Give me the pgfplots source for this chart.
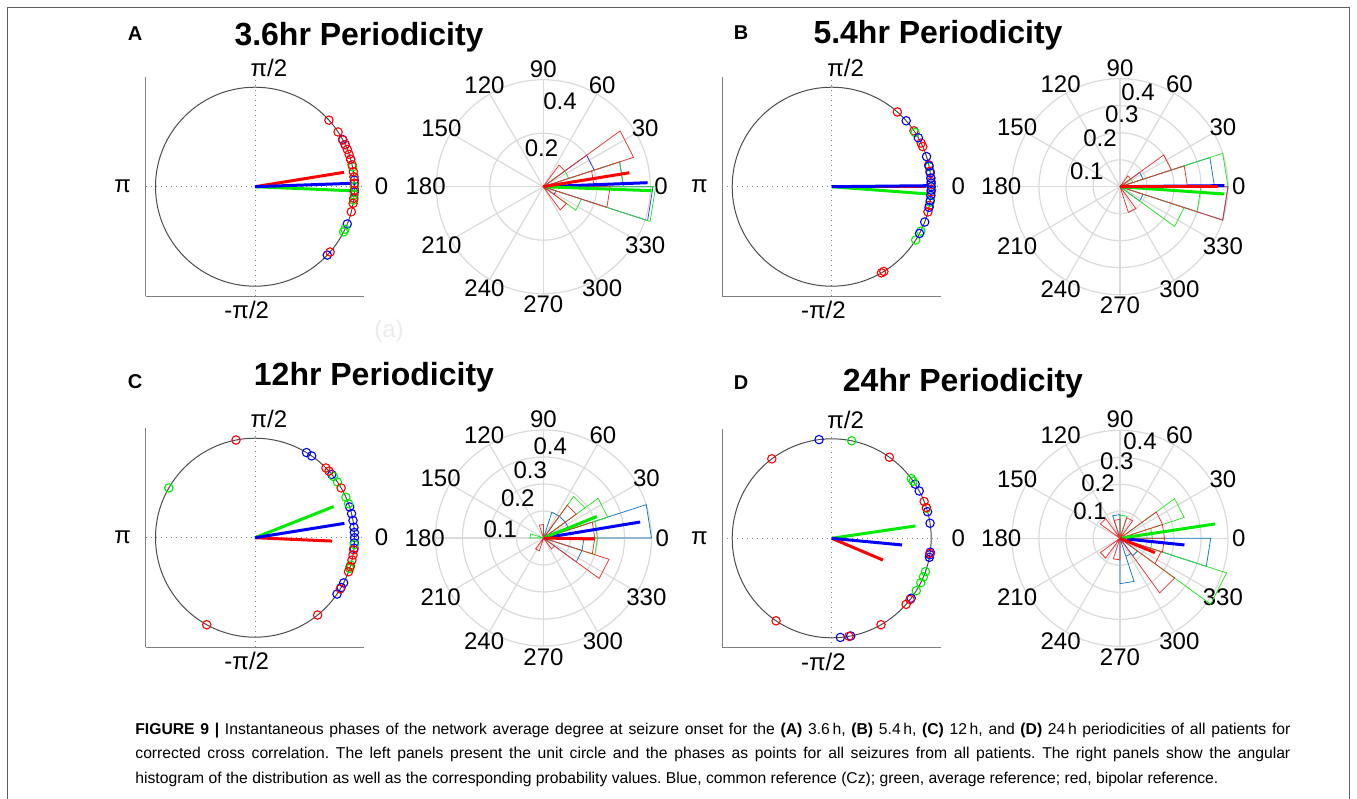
\documentclass[border=0pt]{standalone}
\usepackage{pgfplots}
\pgfplotsset{compat=1.18}
\usepackage{fontspec}
\setmainfont{Liberation Sans}

\definecolor{axgray}{RGB}{128,128,128}
\definecolor{gridgray}{RGB}{218,218,218}
\definecolor{pblue}{RGB}{0,0,255}
\definecolor{pgreen}{RGB}{0,235,0}
\definecolor{pred}{RGB}{255,0,0}
\definecolor{wblue}{RGB}{20,120,195}
\definecolor{wblueA}{RGB}{60,60,225}
\definecolor{wred}{RGB}{232,50,50}
\definecolor{wgreen}{RGB}{40,225,40}
\definecolor{framegray}{RGB}{95,95,95}

\pgfplotsset{
  unitax/.style={anchor=center, scale only axis, width=109.45pt, height=109.45pt,
    xmin=-1.1, xmax=1.1, ymin=-1.1, ymax=1.1,
    axis x line*=bottom, axis y line*=left, xtick=\empty, ytick=\empty,
    every outer x axis line/.append style={-},
    every outer y axis line/.append style={-},
    axis line style={draw=axgray, line width=0.6pt, -}, clip=false},
  polax/.style={anchor=center, scale only axis, width=#1, height=#1,
    xmin=-0.5, xmax=0.5, ymin=-0.5, ymax=0.5, hide axis, clip=false},
  phase/.style={#1, only marks, mark=o, mark size=2.1pt,
    mark options={line width=0.55pt}, data cs=polar},
  vec/.style={#1, line width=1.5pt, mark=none, data cs=polar},
  rose/.style={#1, line width=0.38pt, mark=none, data cs=polar, line join=miter},
}
\newcommand\lbl{\fontsize{12}{12}\selectfont}

% unit circle, dotted axes and phase labels of a left panel
\newcommand\unitframe{%
  \draw[axgray, dotted, line width=0.5pt] (axis cs:-1.1,0) -- (axis cs:1.1,0);
  \draw[axgray, dotted, line width=0.5pt] (axis cs:0,-1.1) -- (axis cs:0,1.1);
  \draw[black!70, line width=0.5pt] (axis cs:0,0) circle[radius=49.75pt];
  \node[font=\lbl] at (axis cs:0.14,1.19) {π/2};
  \node[font=\lbl] at (axis cs:-0.083,-1.24) {-π/2};
  \node[font=\lbl] at (axis cs:1.273,0) {0};
  \node[font=\lbl] at (axis cs:-1.33,0) {π};
}
% spokes and angle labels of a polar panel (outer radius 0.4)
\newcommand\polspokes{%
  \pgfplotsinvokeforeach{0,30,60,90,120,150}{%
    \draw[gridgray, line width=0.6pt] (axis cs:{0.4*cos(##1)},{0.4*sin(##1)}) -- (axis cs:{-0.4*cos(##1)},{-0.4*sin(##1)});}
  \pgfplotsinvokeforeach{0,30,60,90,120,150,180,210,240,270,300,330}{%
    \node[font=\lbl] at (axis cs:{0.44*cos(##1)},{0.44*sin(##1)}) {##1};}
}

\begin{document}
\begin{tikzpicture}
\path[use as bounding box] (0,0) rectangle (678.5pt,-399.5pt);
\draw[framegray, line width=0.6pt] (3.75pt,-400pt) -- (3.75pt,-3.75pt) -- (674.75pt,-3.75pt) -- (674.75pt,-400pt);

% panel letters and titles
\node[font=\bfseries\fontsize{10}{10}\selectfont] at (67.5pt,-17pt) {A};
\node[font=\bfseries\fontsize{10}{10}\selectfont] at (370.5pt,-16.5pt) {B};
\node[font=\bfseries\fontsize{10}{10}\selectfont] at (67.5pt,-191pt) {C};
\node[font=\bfseries\fontsize{10}{10}\selectfont] at (370.5pt,-191.5pt) {D};
\node[font=\bfseries\fontsize{16}{16}\selectfont] at (179.5pt,-18.5pt) {3.6hr Periodicity};
\node[font=\bfseries\fontsize{16}{16}\selectfont] at (469pt,-17.5pt) {5.4hr Periodicity};
\node[font=\bfseries\fontsize{16}{16}\selectfont] at (187pt,-188.5pt) {12hr Periodicity};
\node[font=\bfseries\fontsize{16}{16}\selectfont] at (481.5pt,-191.5pt) {24hr Periodicity};
\node[font=\lbl, text=black!8] at (194.5pt,-165.5pt) {(a)};

%% ---------------- A: 3.6 h ----------------
\begin{axis}[unitax, at={(127.5pt,-93.35pt)}]
\unitframe
\addplot[phase=pblue] coordinates {(28.3,1) (25,1) (16,1) (3.8,1) (0,1) (-3,1) (-22,1) (-43.4,1)};
\addplot[phase=pgreen] coordinates {(11.5,1) (5.7,1) (0,1) (-4.8,1) (-7.7,1) (-25.3,1) (-27,1)};
\addplot[phase=pred] coordinates {(42,1) (33.4,1) (28,1) (25,1) (22,1) (19,1) (16,1) (12.7,1) (8.7,1) (5.7,1) (2,1) (-2,1) (-6.7,1) (-9.6,1) (-14.6,1) (-41,1)};
\addplot[vec=pred] coordinates {(0,0) (9.2,0.906)};
\addplot[vec=pgreen] coordinates {(0,0) (-2.4,0.972)};
\addplot[vec=pblue] coordinates {(0,0) (2,0.962)};
\end{axis}

\begin{axis}[polax=133.75pt, at={(271.65pt,-93.35pt)}]
\pgfplotsinvokeforeach{26.75pt,53.5pt}{\draw[gridgray, line width=0.6pt] (axis cs:0,0) circle[radius=#1];}
\polspokes
\node[font=\lbl] at (axis cs:-0.0067,0.1447) {0.2};
\node[font=\lbl] at (axis cs:0.0624,0.3185) {0.4};
\addplot[rose=wblueA] coordinates {(0,0) (342,0.41) (360,0.41) (0,0) (0,0.30) (18,0.30) (0,0) (18,0.20) (36,0.20) (0,0) (324,0.05) (342,0.05) (0,0)};
\addplot[rose=wgreen] coordinates {(0,0) (342,0.42) (360,0.42) (0,0) (0,0.30) (18,0.30) (0,0) (18,0.10) (36,0.10) (0,0) (324,0.15) (342,0.15) (0,0)};
\addplot[rose=wred] coordinates {(0,0) (18,0.355) (36,0.355) (0,0) (0,0.19) (18,0.19) (0,0) (342,0.25) (360,0.25) (0,0) (36,0.10) (54,0.10) (0,0) (306,0.107) (324,0.107) (0,0)};
\addplot[vec=pblue] coordinates {(0,0) (2.2,0.39)};
\addplot[vec=pgreen] coordinates {(0,0) (-2.1,0.405)};
\addplot[vec=pred] coordinates {(0,0) (9.2,0.326)};
\end{axis}

%% ---------------- B: 5.4 h ----------------
\begin{axis}[unitax, at={(415.85pt,-93.35pt)}]
\unitframe
\addplot[phase=pred] coordinates {(48.7,1) (34.2,1) (26,1) (23.8,1) (12.7,1) (8.9,1) (3,1) (-3,1) (-10.8,1) (-14.7,1) (-58.4,1) (-60,1)};
\addplot[phase=pgreen] coordinates {(33,1) (11.6,1) (5,1) (0,1) (-5,1) (-9,1) (-26.5,1) (-32.4,1)};
\addplot[phase=pblue] coordinates {(41.5,1) (29.4,1) (17.6,1) (12,1) (8,1) (5,1) (2,1) (0,1) (-2,1) (-5,1) (-8,1) (-12,1) (-20.8,1) (-28,1)};
\addplot[vec=pred] coordinates {(0,0) (0,0.95)};
\addplot[vec=pgreen] coordinates {(0,0) (-4.3,0.975)};
\addplot[vec=pblue] coordinates {(0,0) (0.6,0.973)};
\end{axis}

\begin{axis}[polax=135pt, at={(560pt,-93.35pt)}]
\pgfplotsinvokeforeach{13.5pt,27pt,40.5pt,54pt}{\draw[gridgray, line width=0.6pt] (axis cs:0,0) circle[radius=#1];}
\polspokes
\node[font=\lbl] at (axis cs:-0.1233,0.0581) {0.1};
\node[font=\lbl] at (axis cs:-0.0741,0.1804) {0.2};
\node[font=\lbl] at (axis cs:0.0063,0.2693) {0.3};
\node[font=\lbl] at (axis cs:0.0667,0.3481) {0.4};
\addplot[rose=wblue] coordinates {(0,0) (0,0.35) (18,0.35) (0,0) (18,0.09) (36,0.09) (0,0) (324,0.09) (342,0.09) (0,0) (342,0.40) (360,0.40) (0,0)};
\addplot[rose=wgreen] coordinates {(0,0) (0,0.40) (18,0.40) (0,0) (342,0.30) (360,0.30) (0,0) (324,0.25) (342,0.25) (0,0) (18,0.05) (36,0.05) (0,0)};
\addplot[rose=wred] coordinates {(0,0) (0,0.25) (18,0.25) (0,0) (18,0.20) (36,0.20) (0,0) (36,0.05) (54,0.05) (0,0) (342,0.40) (360,0.40) (0,0) (288,0.10) (306,0.10) (0,0)};
\addplot[vec=pblue] coordinates {(0,0) (0.6,0.387)};
\addplot[vec=pgreen] coordinates {(0,0) (-4,0.387)};
\addplot[vec=pred] coordinates {(0,0) (0,0.364)};
\end{axis}

%% ---------------- C: 12 h ----------------
\begin{axis}[unitax, at={(127.5pt,-268.85pt)}]
\unitframe
\addplot[phase=pblue] coordinates {(58.8,1) (55.3,1) (39.5,1) (18,1) (14,1) (10,1) (6,1) (3,1) (0,1) (-3,1) (-6,1) (-27,1) (-30,1) (-34.5,1)};
\addplot[phase=pgreen] coordinates {(150,1) (38,1) (34,1) (24,1) (20,1) (-4,1) (-16,1) (-18,1)};
\addplot[phase=pred] coordinates {(101,1) (44.5,1) (42,1) (30,1) (-7,1) (-10,1) (-13,1) (-17,1) (-20,1) (-31,1) (-51,1) (-119,1)};
\addplot[vec=pred] coordinates {(0,0) (-2.5,0.775)};
\addplot[vec=pgreen] coordinates {(0,0) (21.6,0.851)};
\addplot[vec=pblue] coordinates {(0,0) (9.1,0.91)};
\end{axis}

\begin{axis}[polax=135pt, at={(271.75pt,-269pt)}]
\pgfplotsinvokeforeach{13.5pt,27pt,40.5pt,54pt}{\draw[gridgray, line width=0.6pt] (axis cs:0,0) circle[radius=#1];}
\polspokes
\node[font=\lbl] at (axis cs:-0.1604,0.0333) {0.1};
\node[font=\lbl] at (axis cs:-0.0956,0.1481) {0.2};
\node[font=\lbl] at (axis cs:-0.0493,0.2519) {0.3};
\node[font=\lbl] at (axis cs:0.0248,0.3407) {0.4};
\addplot[rose=wblue] coordinates {(0,0) (0,0.40) (18,0.40) (0,0) (18,0.10) (36,0.10) (0,0) (36,0.10) (54,0.10) (0,0) (54,0.10) (72,0.10) (0,0) (324,0.15) (342,0.15) (0,0) (342,0.15) (360,0.15) (0,0)};
\addplot[rose=wgreen] coordinates {(0,0) (0,0.20) (18,0.20) (0,0) (18,0.25) (36,0.25) (0,0) (36,0.19) (54,0.19) (0,0) (342,0.20) (360,0.20) (0,0) (162,0.05) (180,0.05) (0,0)};
\addplot[rose=wred] coordinates {(0,0) (324,0.255) (342,0.255) (0,0) (36,0.15) (54,0.15) (0,0) (0,0.19) (18,0.19) (0,0) (342,0.19) (360,0.19) (0,0) (90,0.05) (108,0.05) (0,0) (234,0.05) (252,0.05) (0,0) (306,0.05) (324,0.05) (0,0)};
\addplot[vec=pblue] coordinates {(0,0) (9.4,0.363)};
\addplot[vec=pgreen] coordinates {(0,0) (22,0.213)};
\addplot[vec=pred] coordinates {(0,0) (-1.1,0.189)};
\end{axis}

%% ---------------- D: 24 h ----------------
\begin{axis}[unitax, at={(415.85pt,-269.15pt)}]
\unitframe
\addplot[phase=pblue] coordinates {(97.3,1) (33,1) (28.4,1) (15.5,1) (8.7,1) (-8,1) (-9.5,1) (-11,1) (-37,1) (-79,1) (-85,1)};
\addplot[phase=pgreen] coordinates {(78.4,1) (36.9,1) (35,1) (17.6,1) (-19.6,1) (-22.8,1) (-26.5,1) (-31.8,1)};
\addplot[phase=pred] coordinates {(127,1) (54.6,1) (21.7,1) (18,1) (-8.7,1) (-38,1) (-41.6,1) (-60.3,1) (-80,1) (-124,1)};
\addplot[vec=pred] coordinates {(0,0) (-23,0.56)};
\addplot[vec=pgreen] coordinates {(0,0) (8.4,0.851)};
\addplot[vec=pblue] coordinates {(0,0) (-5.4,0.71)};
\end{axis}

\begin{axis}[polax=135pt, at={(560pt,-269.15pt)}]
\pgfplotsinvokeforeach{13.5pt,27pt,40.5pt,54pt}{\draw[gridgray, line width=0.6pt] (axis cs:0,0) circle[radius=#1];}
\polspokes
\node[font=\lbl] at (axis cs:-0.1111,0.1011) {0.1};
\node[font=\lbl] at (axis cs:-0.0815,0.2037) {0.2};
\node[font=\lbl] at (axis cs:-0.0122,0.2841) {0.3};
\node[font=\lbl] at (axis cs:0.0741,0.3604) {0.4};
\addplot[rose=wblue] coordinates {(0,0) (342,0.336) (360,0.336) (0,0) (270,0.168) (288,0.168) (0,0) (90,0.088) (108,0.088) (0,0) (306,0.08) (324,0.08) (0,0) (288,0.07) (306,0.07) (0,0)};
\addplot[rose=wgreen] coordinates {(0,0) (18,0.25) (36,0.25) (0,0) (324,0.415) (342,0.415) (0,0) (72,0.086) (90,0.086) (0,0) (0,0.12) (18,0.12) (0,0) (342,0.12) (360,0.12) (0,0)};
\addplot[rose=wred] coordinates {(0,0) (18,0.166) (36,0.166) (0,0) (0,0.165) (18,0.165) (0,0) (342,0.165) (360,0.165) (0,0) (306,0.25) (324,0.25) (0,0) (324,0.16) (342,0.16) (0,0) (126,0.09) (144,0.09) (0,0) (54,0.08) (72,0.08) (0,0) (90,0.07) (108,0.07) (0,0) (216,0.09) (234,0.09) (0,0) (252,0.08) (270,0.08) (0,0)};
\addplot[vec=pblue] coordinates {(0,0) (-5.9,0.24)};
\addplot[vec=pgreen] coordinates {(0,0) (8.6,0.356)};
\addplot[vec=pred] coordinates {(0,0) (-22.3,0.14)};
\end{axis}

% caption
\node[anchor=base west, text width=577.5pt, align=justify, inner sep=0pt,
      font=\fontsize{7.85}{12.3}\selectfont] at (67.5pt,-367pt)
 {\frenchspacing\textbf{FIGURE 9 |} Instantaneous phases of the network average degree at seizure onset for the \textbf{(A)} 3.6\,h, \textbf{(B)} 5.4\,h, \textbf{(C)} 12\,h, and \textbf{(D)} 24\,h periodicities of all patients for\linebreak
 corrected cross correlation. The left panels present the unit circle and the phases as points for all seizures from all patients. The right panels show the angular\linebreak
 histogram of the distribution as well as the corresponding probability values. Blue, common reference (Cz); green, average reference; red, bipolar reference.};
\end{tikzpicture}
\end{document}
